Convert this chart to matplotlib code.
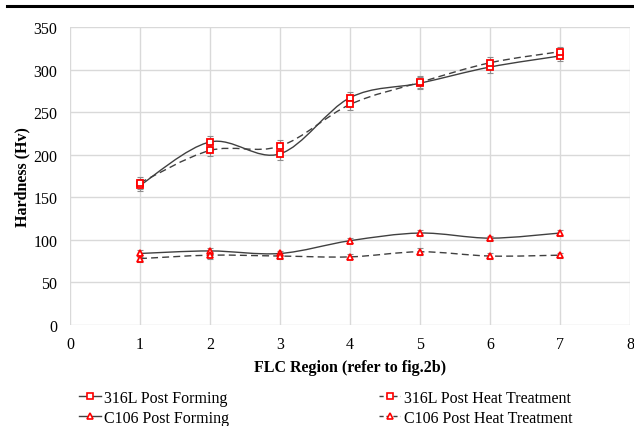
import matplotlib
matplotlib.use("Agg")
import matplotlib.pyplot as plt
from matplotlib.path import Path
from matplotlib.patches import PathPatch
from matplotlib.lines import Line2D
import numpy as np

plt.rcParams['font.family'] = ['Liberation Serif', 'DejaVu Serif']

regions = [1, 2, 3, 4, 5, 6, 7]
ss_forming = [164, 215, 201, 267, 284, 303, 316]
ss_heat = [167, 205, 210, 259, 285, 308, 321]
cu_forming = [84, 87, 84, 99, 108, 102, 108]
cu_heat = [78, 82, 81, 80, 86, 81, 82]
ss_err = [7, 7, 7, 7, 7, 7, 6]
cu_err = [4, 4, 3, 3, 4, 3, 3]

labels = ["316L Post Forming", "316L Post Heat Treatment",
          "C106 Post Forming", "C106 Post Heat Treatment"]

line_col = "#404040"
mark_col = "#ff0000"
err_col = "#8c8c8c"
fs = 11.5


def smooth_path(x, y):
    # excel style smoothed line: cubic bezier between points
    pts = np.column_stack([x, y]).astype(float)
    n = len(pts)
    verts = [pts[0]]
    codes = [Path.MOVETO]
    for i in range(n - 1):
        p0 = pts[i - 1] if i > 0 else pts[i]
        p1 = pts[i]
        p2 = pts[i + 1]
        p3 = pts[i + 2] if i + 2 < n else pts[i + 1]
        c1 = p1 + (p2 - p0) / 6.0
        c2 = p2 - (p3 - p1) / 6.0
        verts += [c1, c2, p2]
        codes += [Path.CURVE4] * 3
    return Path(verts, codes)


def draw_series(ax, y, err, ls, marker, ms):
    patch = PathPatch(smooth_path(regions, y), facecolor="none", edgecolor=line_col,
                      lw=1.0, ls=ls, zorder=3)
    ax.add_patch(patch)
    ax.errorbar(regions, y, yerr=err, fmt="none", ecolor=err_col, elinewidth=0.8,
                capsize=2, capthick=0.8, zorder=2)
    ax.plot(regions, y, ls="none", marker=marker, ms=ms, mfc="white", mec=mark_col,
            mew=1.3, zorder=4)


fig = plt.figure(figsize=(6.34, 4.27), dpi=100)
ax = fig.add_axes([70 / 634, 1 - 326 / 427, 560 / 634, 298 / 427])

draw_series(ax, ss_forming, ss_err, "-", "s", 4.6)
draw_series(ax, ss_heat, ss_err, (0, (5, 3)), "s", 4.6)
draw_series(ax, cu_forming, cu_err, "-", "^", 4.3)
draw_series(ax, cu_heat, cu_err, (0, (5, 3)), "^", 4.3)

ax.set_xlim(0, 8)
ax.set_ylim(0, 350)
ax.set_xticks(range(0, 9))
ax.set_yticks(range(0, 351, 50))
ax.grid(True, color="#d9d9d9", lw=1)
ax.set_axisbelow(True)
for s in ax.spines.values():
    s.set_visible(False)
ax.tick_params(length=0, labelsize=fs)
ax.tick_params(axis="x", pad=8)
ax.tick_params(axis="y", pad=9)
ax.set_xlabel("FLC Region (refer to fig.2b)", fontsize=fs, fontweight="bold", labelpad=5)
ax.set_ylabel("Hardness (Hv)", fontsize=fs, fontweight="bold", labelpad=2)

handles = [
    Line2D([], [], color=line_col, lw=1, ls="-", marker="s", ms=4.2, mfc="white", mec=mark_col, mew=1.2),
    Line2D([], [], color=line_col, lw=1, ls="-", marker="^", ms=4.2, mfc="white", mec=mark_col, mew=1.2),
    Line2D([], [], color=line_col, lw=1, ls=(0, (3, 2)), marker="s", ms=4.2, mfc="white", mec=mark_col, mew=1.2),
    Line2D([], [], color=line_col, lw=1, ls=(0, (3, 2)), marker="^", ms=4.2, mfc="white", mec=mark_col, mew=1.2),
]
fig.legend(handles, [labels[0], labels[2], labels[1], labels[3]], ncol=2, frameon=False,
           loc="upper left", bbox_to_anchor=(79 / 634, 1 - 391 / 427), borderpad=0,
           borderaxespad=0, handlelength=1.35, handletextpad=0.2, columnspacing=9.4,
           labelspacing=0.24, fontsize=fs, numpoints=1)

fig.add_artist(Line2D([7 / 634, 1.0], [1 - 6.5 / 427, 1 - 6.5 / 427], color="black", lw=2.2))

fig.savefig("out.png", dpi=100)
